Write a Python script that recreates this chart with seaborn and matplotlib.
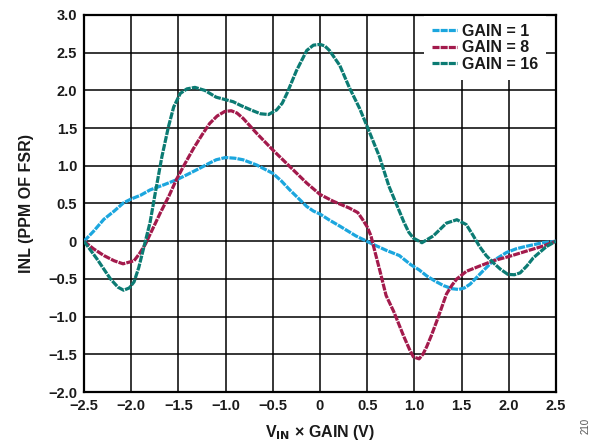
import numpy as np
import pandas as pd
import matplotlib
matplotlib.use("Agg")
import matplotlib.pyplot as plt
import seaborn as sns

# INL (ppm of FSR) versus input voltage x gain (V), one x/y pair per gain setting
x_gain1 = [-2.5, -2.4, -2.29, -2.18, -2.08, -2.0, -1.9, -1.8, -1.65, -1.51, -1.38, -1.27,
           -1.18, -1.1, -1.0, -0.9, -0.815, -0.67, -0.5, -0.41, -0.32, -0.23, -0.14, -0.07,
           0.0, 0.1, 0.21, 0.38, 0.56, 0.7, 0.84, 0.96, 1.05, 1.13, 1.22, 1.31, 1.4, 1.47,
           1.53, 1.59, 1.66, 1.73, 1.835, 1.975, 2.08, 2.19, 2.36, 2.5]
inl_gain1 = [0.0, 0.13, 0.29, 0.40, 0.51, 0.56, 0.61, 0.68, 0.75, 0.82, 0.90, 0.97,
             1.03, 1.08, 1.11, 1.10, 1.08, 1.01, 0.90, 0.80, 0.68, 0.57, 0.46, 0.40,
             0.36, 0.28, 0.20, 0.07, -0.04, -0.12, -0.19, -0.31, -0.38, -0.46, -0.53, -0.59, -0.63, -0.64,
             -0.62, -0.57, -0.48, -0.39, -0.26, -0.15, -0.10, -0.066, -0.02, 0.0]

x_gain8 = [-2.5, -2.4, -2.29, -2.18, -2.086, -1.97, -1.91, -1.85, -1.77, -1.69, -1.6, -1.52,
           -1.43, -1.34, -1.25, -1.17, -1.09, -1.01, -0.94, -0.88, -0.815, -0.67, -0.5, -0.32,
           -0.14, 0.0, 0.14, 0.31, 0.40, 0.45, 0.50, 0.54, 0.58, 0.63, 0.70, 0.78, 0.89, 0.95,
           0.99, 1.05, 1.09, 1.13, 1.18, 1.24, 1.34, 1.40, 1.45, 1.55, 1.69, 1.835, 2.01, 2.19,
           2.36, 2.5]
inl_gain8 = [0.0, -0.10, -0.19, -0.26, -0.30, -0.26, -0.16, -0.04, 0.17, 0.38, 0.60, 0.82,
             1.03, 1.23, 1.41, 1.56, 1.66, 1.72, 1.73, 1.70, 1.63, 1.43, 1.21, 0.99,
             0.77, 0.62, 0.53, 0.44, 0.38, 0.29, 0.19, 0.07, -0.13, -0.37, -0.72, -0.93, -1.27, -1.44,
             -1.535, -1.56, -1.50, -1.40, -1.25, -1.05, -0.70, -0.58, -0.50, -0.40, -0.33, -0.26, -0.20, -0.13,
             -0.066, 0.0]

x_gain16 = [-2.5, -2.36, -2.22, -2.14, -2.08, -2.02, -1.97, -1.92, -1.87, -1.80, -1.745, -1.675,
            -1.605, -1.55, -1.48, -1.41, -1.325, -1.22, -1.10, -1.01, -0.92, -0.84, -0.73, -0.63,
            -0.545, -0.46, -0.40, -0.35, -0.25, -0.14, -0.07, 0.0, 0.05, 0.10, 0.21, 0.31,
            0.42, 0.5, 0.63, 0.73, 0.84, 0.89, 0.94, 0.99, 1.08, 1.20, 1.34, 1.45,
            1.55, 1.62, 1.69, 1.76, 1.835, 1.91, 1.99, 2.06, 2.12, 2.19, 2.26, 2.40, 2.5]
inl_gain16 = [0.0, -0.24, -0.50, -0.61, -0.65, -0.62, -0.54, -0.35, -0.10, 0.25, 0.64, 1.12,
              1.52, 1.78, 1.96, 2.02, 2.04, 2.00, 1.91, 1.88, 1.85, 1.80, 1.74, 1.69,
              1.68, 1.74, 1.83, 1.96, 2.26, 2.53, 2.60, 2.61, 2.59, 2.53, 2.33, 2.04,
              1.76, 1.52, 1.12, 0.73, 0.40, 0.25, 0.12, 0.04, -0.02, 0.07, 0.24, 0.285,
              0.22, 0.08, -0.07, -0.19, -0.285, -0.37, -0.44, -0.445, -0.42, -0.33, -0.22, -0.07, 0.0]

series_names = ["GAIN = 1", "GAIN = 8", "GAIN = 16"]
colors = ["#1ba6de", "#a31a4c", "#0b7b73"]

x_ticks = [-2.5, -2.0, -1.5, -1.0, -0.5, 0.0, 0.5, 1.0, 1.5, 2.0, 2.5]
x_tick_labels = ["\u22122.5", "\u22122.0", "\u22121.5", "\u22121.0", "\u22120.5", "0",
                 "0.5", "1.0", "1.5", "2.0", "2.5"]
y_ticks = [-2.0, -1.5, -1.0, -0.5, 0.0, 0.5, 1.0, 1.5, 2.0, 2.5, 3.0]
y_tick_labels = ["\u22122.0", "\u22121.5", "\u22121.0", "\u22120.5", "0",
                 "0.5", "1.0", "1.5", "2.0", "2.5", "3.0"]

df = pd.DataFrame({
    "x": x_gain1 + x_gain8 + x_gain16,
    "inl": inl_gain1 + inl_gain8 + inl_gain16,
    "gain": [series_names[0]] * len(x_gain1) + [series_names[1]] * len(x_gain8)
            + [series_names[2]] * len(x_gain16),
})

sns.set_theme(style="white")
plt.rcParams["font.family"] = ["Liberation Sans", "DejaVu Sans"]
plt.rcParams["font.weight"] = "bold"

fig = plt.figure(figsize=(6.07, 4.48), dpi=100)
ax = fig.add_axes([84 / 607, 56 / 448, 472 / 607, 377 / 448])

sns.lineplot(data=df, x="x", y="inl", hue="gain", hue_order=series_names,
             palette=colors, linewidth=2.3, ax=ax, legend=False, sort=True,
             estimator=None, zorder=3)
for line in ax.get_lines():
    line.set_dashes((2.2, 0.35))
    line.set_solid_joinstyle("round")
    line.set_dash_joinstyle("round")

ax.set_xlim(-2.5, 2.5)
ax.set_ylim(-2.0, 3.0)
ax.set_xticks(x_ticks)
ax.set_xticklabels(x_tick_labels)
ax.set_yticks(y_ticks)
ax.set_yticklabels(y_tick_labels)
ax.tick_params(length=0, pad=5, labelsize=10.5, colors="#1a1a1a")
for lab in ax.get_xticklabels() + ax.get_yticklabels():
    lab.set_fontweight("bold")

ax.grid(True, color="black", linewidth=1.1, zorder=0)
ax.set_axisbelow(True)
for s in ax.spines.values():
    s.set_color("black")
    s.set_linewidth(1.6)

ax.set_xlabel("V$_{\\mathbf{IN}}$ \u00d7 GAIN (V)", fontsize=11.5, fontweight="bold",
              color="#1a1a1a", labelpad=7)
ax.set_ylabel("INL (PPM OF FSR)", fontsize=11.5, fontweight="bold",
              color="#1a1a1a", labelpad=10)

handles = [matplotlib.lines.Line2D([0], [0], color=c, linewidth=2.3, dashes=(2.2, 0.35))
           for c in colors]
leg = ax.legend(handles, series_names, loc="upper right", bbox_to_anchor=(0.979, 0.998),
                borderaxespad=0, frameon=True, fancybox=False, handlelength=1.6,
                handletextpad=0.3, labelspacing=0.1, borderpad=0.5,
                prop={"weight": "bold", "size": 11.5})
leg.get_frame().set_facecolor("white")
leg.get_frame().set_edgecolor("none")
leg.get_frame().set_alpha(1.0)
for t in leg.get_texts():
    t.set_color("#1a1a1a")

fig.text(0.964, 0.05, "210", rotation=90, fontsize=7, color="#555555",
         fontweight="normal", ha="center", va="center")

fig.savefig("out.png", dpi=100, facecolor="white")
